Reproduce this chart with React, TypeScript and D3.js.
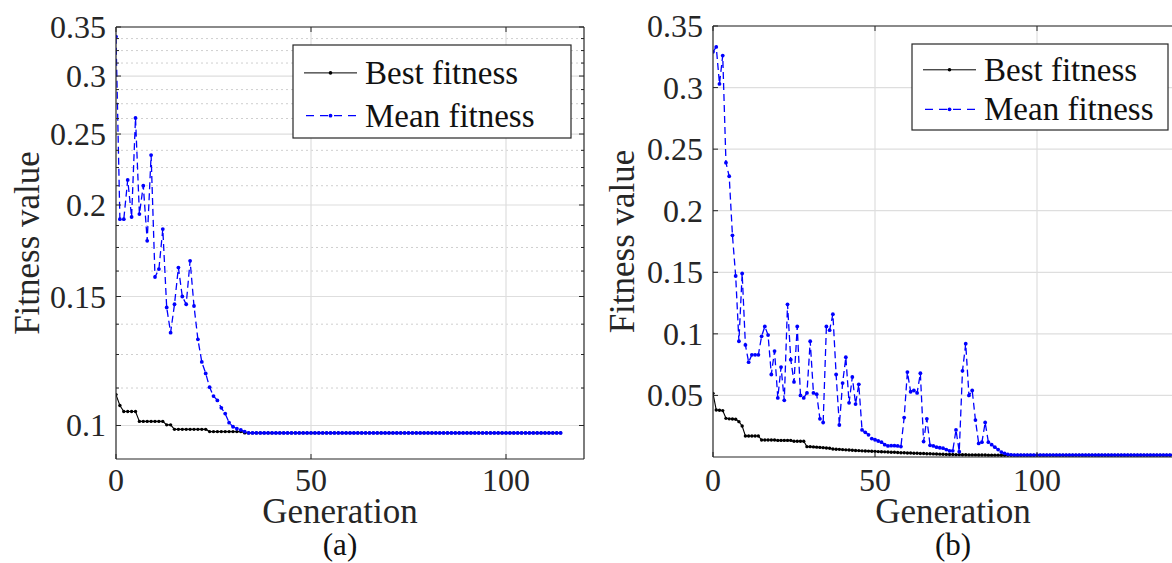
import React from 'react';
import * as d3 from 'd3';

const FONT = "'Liberation Serif', 'Times New Roman', Times, 'DejaVu Serif', serif";

// ---------- Panel (a) data ----------
const bestA = [
  0.1102, 0.1065, 0.1045, 0.1045, 0.1045, 0.1045, 0.1013, 0.1013, 0.1013, 0.1013,
  0.1013, 0.1013, 0.1013, 0.1002, 0.1002, 0.0988, 0.0988, 0.0988, 0.0988, 0.0988,
  0.0988, 0.0988, 0.0988, 0.0988, 0.0981, 0.0981, 0.0981, 0.0981, 0.0981, 0.0981,
  0.0981, 0.0981, 0.0981, 0.0977, 0.0977, 0.0977, 0.0977, 0.0977, 0.0977, 0.0977,
  0.0977, 0.0977, 0.0977, 0.0977, 0.0977, 0.0977, 0.0977, 0.0977, 0.0977, 0.0977,
  0.0977, 0.0977, 0.0977, 0.0977, 0.0977, 0.0977, 0.0977, 0.0977, 0.0977, 0.0977,
  0.0977, 0.0977, 0.0977, 0.0977, 0.0977, 0.0977, 0.0977, 0.0977, 0.0977, 0.0977,
  0.0977, 0.0977, 0.0977, 0.0977, 0.0977, 0.0977, 0.0977, 0.0977, 0.0977, 0.0977,
  0.0977, 0.0977, 0.0977, 0.0977, 0.0977, 0.0977, 0.0977, 0.0977, 0.0977, 0.0977,
  0.0977, 0.0977, 0.0977, 0.0977, 0.0977, 0.0977, 0.0977, 0.0977, 0.0977, 0.0977,
  0.0977, 0.0977, 0.0977, 0.0977, 0.0977, 0.0977, 0.0977, 0.0977, 0.0977, 0.0977,
  0.0977, 0.0977, 0.0977, 0.0977, 0.0977,
];
const meanA = [
  0.3395, 0.1913, 0.1913, 0.2164, 0.1926, 0.263, 0.1944, 0.2125, 0.1787, 0.234,
  0.1595, 0.1635, 0.1854, 0.1449, 0.1339, 0.1464, 0.1643, 0.15, 0.1464, 0.1678,
  0.1456, 0.1311, 0.1221, 0.1178, 0.1128, 0.1097, 0.1082, 0.1057, 0.1038, 0.1009,
  0.0996, 0.099, 0.0986, 0.0981, 0.0977, 0.0977, 0.0977, 0.0977, 0.0977, 0.0977,
  0.0977, 0.0977, 0.0977, 0.0977, 0.0977, 0.0977, 0.0977, 0.0977, 0.0977, 0.0977,
  0.0977, 0.0977, 0.0977, 0.0977, 0.0977, 0.0977, 0.0977, 0.0977, 0.0977, 0.0977,
  0.0977, 0.0977, 0.0977, 0.0977, 0.0977, 0.0977, 0.0977, 0.0977, 0.0977, 0.0977,
  0.0977, 0.0977, 0.0977, 0.0977, 0.0977, 0.0977, 0.0977, 0.0977, 0.0977, 0.0977,
  0.0977, 0.0977, 0.0977, 0.0977, 0.0977, 0.0977, 0.0977, 0.0977, 0.0977, 0.0977,
  0.0977, 0.0977, 0.0977, 0.0977, 0.0977, 0.0977, 0.0977, 0.0977, 0.0977, 0.0977,
  0.0977, 0.0977, 0.0977, 0.0977, 0.0977, 0.0977, 0.0977, 0.0977, 0.0977, 0.0977,
  0.0977, 0.0977, 0.0977, 0.0977, 0.0977,
];
const yTicksA = [0.1, 0.15, 0.2, 0.25, 0.3, 0.35];
const yTickLabelsA = ['0.1', '0.15', '0.2', '0.25', '0.3', '0.35'];
const yMinorA = [
  0.1125, 0.125, 0.1375, 0.1625, 0.175, 0.1875, 0.2125, 0.225, 0.2375,
  0.2625, 0.275, 0.2875, 0.3125, 0.325, 0.3375,
];

// ---------- Panel (b) data ----------
const bestB = [
  0.0517, 0.0382, 0.038, 0.0377, 0.0314, 0.031, 0.0308, 0.0306, 0.0287, 0.0252,
  0.0171, 0.0171, 0.0171, 0.0171, 0.0171, 0.0138, 0.0138, 0.0138, 0.0138, 0.0138,
  0.0135, 0.0135, 0.0135, 0.0135, 0.0135, 0.0128, 0.0128, 0.0128, 0.0128, 0.0084,
  0.0084, 0.0082, 0.008, 0.0078, 0.0076, 0.0073, 0.0071, 0.0065, 0.0063, 0.0062,
  0.006, 0.0058, 0.0057, 0.0055, 0.0053, 0.0052, 0.005, 0.0049, 0.0048, 0.0047,
  0.0046, 0.0044, 0.0043, 0.0042, 0.004, 0.0039, 0.0038, 0.0036, 0.0035, 0.0034,
  0.0033, 0.0032, 0.0031, 0.003, 0.0029, 0.0028, 0.0027, 0.0026, 0.0025, 0.0024,
  0.0023, 0.0022, 0.0021, 0.002, 0.002, 0.0019, 0.0019, 0.0018, 0.0018, 0.0017,
  0.0017, 0.0017, 0.0016, 0.0016, 0.0016, 0.0015, 0.0015, 0.0015, 0.0015, 0.0014,
  0.0014, 0.0014, 0.0014, 0.0014, 0.0014, 0.0014, 0.0014, 0.0014, 0.0014, 0.0014,
  0.0014, 0.0014, 0.0014, 0.0014, 0.0014, 0.0014, 0.0014, 0.0014, 0.0014, 0.0014,
  0.0014, 0.0014, 0.0014, 0.0014, 0.0014, 0.0014, 0.0014, 0.0014, 0.0014, 0.0014,
  0.0014, 0.0014, 0.0014, 0.0014, 0.0014, 0.0014, 0.0014, 0.0014, 0.0014, 0.0014,
  0.0014, 0.0014, 0.0014, 0.0014, 0.0014, 0.0014, 0.0014, 0.0014, 0.0014, 0.0014,
  0.0014, 0.0014, 0.0014, 0.0014, 0.0014, 0.0014, 0.0014, 0.0014, 0.0014, 0.0014,
  0.0014,
];
const meanB = [
  0.329, 0.333, 0.303, 0.326, 0.239, 0.228, 0.18, 0.147, 0.094, 0.149,
  0.091, 0.077, 0.083, 0.083, 0.083, 0.098, 0.106, 0.099, 0.067, 0.086,
  0.048, 0.073, 0.046, 0.124, 0.079, 0.061, 0.106, 0.05, 0.048, 0.052,
  0.094, 0.052, 0.051, 0.031, 0.028, 0.106, 0.103, 0.116, 0.067, 0.026,
  0.06, 0.081, 0.044, 0.065, 0.043, 0.059, 0.022, 0.02, 0.018, 0.015,
  0.014, 0.013, 0.012, 0.01, 0.009, 0.0092, 0.0092, 0.009, 0.0085, 0.032,
  0.069, 0.053, 0.054, 0.052, 0.068, 0.0125, 0.031, 0.0095, 0.009, 0.008,
  0.0075, 0.0072, 0.006, 0.005, 0.005, 0.022, 0.0043, 0.07, 0.092, 0.05,
  0.054, 0.03, 0.011, 0.012, 0.028, 0.012, 0.01, 0.008, 0.006, 0.004,
  0.003, 0.0022, 0.0018, 0.0016, 0.0016, 0.0016, 0.0016, 0.0016, 0.0016, 0.0016,
  0.0016, 0.0016, 0.0016, 0.0016, 0.0016, 0.0016, 0.0016, 0.0016, 0.0016, 0.0016,
  0.0016, 0.0016, 0.0016, 0.0016, 0.0016, 0.0016, 0.0016, 0.0016, 0.0016, 0.0016,
  0.0016, 0.0016, 0.0016, 0.0016, 0.0016, 0.0016, 0.0016, 0.0016, 0.0016, 0.0016,
  0.0016, 0.0016, 0.0016, 0.0016, 0.0016, 0.0016, 0.0016, 0.0016, 0.0016, 0.0016,
  0.0016, 0.0016, 0.0016, 0.0016, 0.0016, 0.0016, 0.0016, 0.0016, 0.0016, 0.0016,
  0.0016,
];
const yTicksB = [0.05, 0.1, 0.15, 0.2, 0.25, 0.3, 0.35];
const yTickLabelsB = ['0.05', '0.1', '0.15', '0.2', '0.25', '0.3', '0.35'];

const xTicks = [0, 50, 100];
const xTickLabels = ['0', '50', '100'];
const legendLabels = ['Best fitness', 'Mean fitness'];
const captions = ['(a)', '(b)'];

const AXIS = '#262626';
const GRID = '#dedede';
const MINOR = '#cfcfcf';

type PanelProps = {
  left: number; right: number; top: number; bottom: number;
  xMax: number;
  yScale: d3.ScaleContinuousNumeric<number, number>;
  yTicks: number[]; yLabels: string[]; yMinor: number[];
  best: number[]; mean: number[];
  legendBox: { x: number; y: number; w: number; h: number };
  caption: string; ylabelX: number; labelCx: number;
};

const txt = (size: number) => ({ fontFamily: FONT, fontSize: size + 'px' });

function Panel(p: PanelProps) {
  const x = d3.scaleLinear().domain([0, p.xMax]).range([p.left, p.right]);
  const y = p.yScale;
  const lineGen = d3.line<number>().x((_, i) => x(i)).y((d) => y(d));
  const tickLen = 5;
  const visRight = Math.min(p.right, 1172);
  const lb = p.legendBox;
  const rowY = [lb.y + lb.h * 0.3, lb.y + lb.h * 0.76];
  const clipId = 'clip' + p.caption.replace(/[()]/g, '');
  return (
    <g>
      <defs>
        <clipPath id={clipId}>
          <rect x={p.left} y={p.top - 4} width={p.right - p.left} height={p.bottom - p.top + 8} />
        </clipPath>
      </defs>
      {p.yMinor.map((v, i) => (
        <line key={'mg' + i} x1={p.left} x2={visRight} y1={y(v)} y2={y(v)}
          stroke={MINOR} strokeWidth={1} strokeDasharray="2,3" />
      ))}
      {p.yTicks.map((v, i) => (
        <line key={'yg' + i} x1={p.left} x2={visRight} y1={y(v)} y2={y(v)}
          stroke={GRID} strokeWidth={1.2} />
      ))}
      {xTicks.filter((t) => t > 0).map((t, i) => (
        <line key={'xg' + i} x1={x(t)} x2={x(t)} y1={p.top} y2={p.bottom}
          stroke={GRID} strokeWidth={1.2} />
      ))}
      <g clipPath={`url(#${clipId})`}>
        <path d={lineGen(p.best) || ''} fill="none" stroke="#000" strokeWidth={1.1} />
        {p.best.map((d, i) => (
          <circle key={'bd' + i} cx={x(i)} cy={y(d)} r={1.7} fill="#000" />
        ))}
        <path d={lineGen(p.mean) || ''} fill="none" stroke="#0000ff" strokeWidth={1.3}
          strokeDasharray="7,4" />
        {p.mean.map((d, i) => (
          <circle key={'md' + i} cx={x(i)} cy={y(d)} r={1.9} fill="#0000ff" />
        ))}
      </g>
      <line x1={p.left} x2={p.left} y1={p.top} y2={p.bottom} stroke={AXIS} strokeWidth={1.2} />
      <line x1={p.left} x2={p.right} y1={p.top} y2={p.top} stroke={AXIS} strokeWidth={1.2} />
      <line x1={p.left} x2={p.right} y1={p.bottom} y2={p.bottom} stroke={AXIS} strokeWidth={1.2} />
      <line x1={p.right} x2={p.right} y1={p.top} y2={p.bottom} stroke={AXIS} strokeWidth={1.2} />
      {xTicks.map((t, i) => (
        <g key={'xt' + i}>
          <line x1={x(t)} x2={x(t)} y1={p.bottom} y2={p.bottom - tickLen} stroke={AXIS} />
          <line x1={x(t)} x2={x(t)} y1={p.top} y2={p.top + tickLen} stroke={AXIS} />
        </g>
      ))}
      {[...p.yTicks, ...p.yMinor].map((v, i) => (
        <g key={'yt' + i}>
          <line x1={p.left} x2={p.left + (i < p.yTicks.length ? tickLen : 3)} y1={y(v)} y2={y(v)} stroke={AXIS} />
          <line x1={p.right} x2={p.right - (i < p.yTicks.length ? tickLen : 3)} y1={y(v)} y2={y(v)} stroke={AXIS} />
        </g>
      ))}
      {xTicks.map((t, i) => (
        <text key={'xl' + i} x={x(t)} y={491} textAnchor="middle" style={txt(32)}
          fill={AXIS}>{xTickLabels[i]}</text>
      ))}
      {p.yTicks.map((v, i) => (
        <text key={'yl' + i} x={p.left - 10} y={y(v) + 11} textAnchor="end" style={txt(32)}
          fill={AXIS}>{p.yLabels[i]}</text>
      ))}
      <text x={p.labelCx} y={523} textAnchor="middle" style={txt(35)} fill={AXIS}>Generation</text>
      <text x={p.labelCx} y={555} textAnchor="middle" style={txt(31)} fill="#111">{p.caption}</text>
      <text transform={`translate(${p.ylabelX},${(p.top + p.bottom) / 2}) rotate(-90)`}
        textAnchor="middle" style={txt(35)} fill={AXIS}>Fitness value</text>
      <rect x={lb.x} y={lb.y} width={lb.w} height={lb.h} fill="#fff" stroke={AXIS} strokeWidth={1.2} />
      <line x1={lb.x + 11} x2={lb.x + 64} y1={rowY[0]} y2={rowY[0]} stroke="#000" strokeWidth={1} />
      <circle cx={lb.x + 37.5} cy={rowY[0]} r={1.8} fill="#000" />
      <line x1={lb.x + 11} x2={lb.x + 64} y1={rowY[1]} y2={rowY[1]} stroke="#0000ff"
        strokeWidth={1.2} strokeDasharray="8,6" strokeDashoffset={-2} />
      <circle cx={lb.x + 37.5} cy={rowY[1]} r={1.9} fill="#0000ff" />
      {legendLabels.map((s, i) => (
        <text key={'lg' + i} x={lb.x + 72} y={rowY[i] + 11} style={txt(33)} fill="#111">{s}</text>
      ))}
    </g>
  );
}

export default function App() {
  const yA = d3.scaleLog().domain([0.09, 0.35]).range([459, 27]);
  const yB = d3.scaleLinear().domain([0, 0.35]).range([457, 26]);
  return (
    <svg width={1172} height={563} style={{ position: 'absolute', left: 0, top: 0, background: '#fff' }}>
      <rect x={0} y={0} width={1172} height={563} fill="#fff" />
      <Panel left={116} right={584} top={27} bottom={459} xMax={120} yScale={yA}
        yTicks={yTicksA} yLabels={yTickLabelsA} yMinor={yMinorA}
        best={bestA} mean={meanA}
        legendBox={{ x: 293, y: 45, w: 278, h: 93 }} caption={captions[0]} ylabelX={39} labelCx={340} />
      <Panel left={713} right={1199} top={26} bottom={457} xMax={150} yScale={yB}
        yTicks={yTicksB} yLabels={yTickLabelsB} yMinor={[]}
        best={bestB} mean={meanB}
        legendBox={{ x: 912, y: 44, w: 256, h: 86 }} caption={captions[1]} ylabelX={634} labelCx={953} />
    </svg>
  );
}
